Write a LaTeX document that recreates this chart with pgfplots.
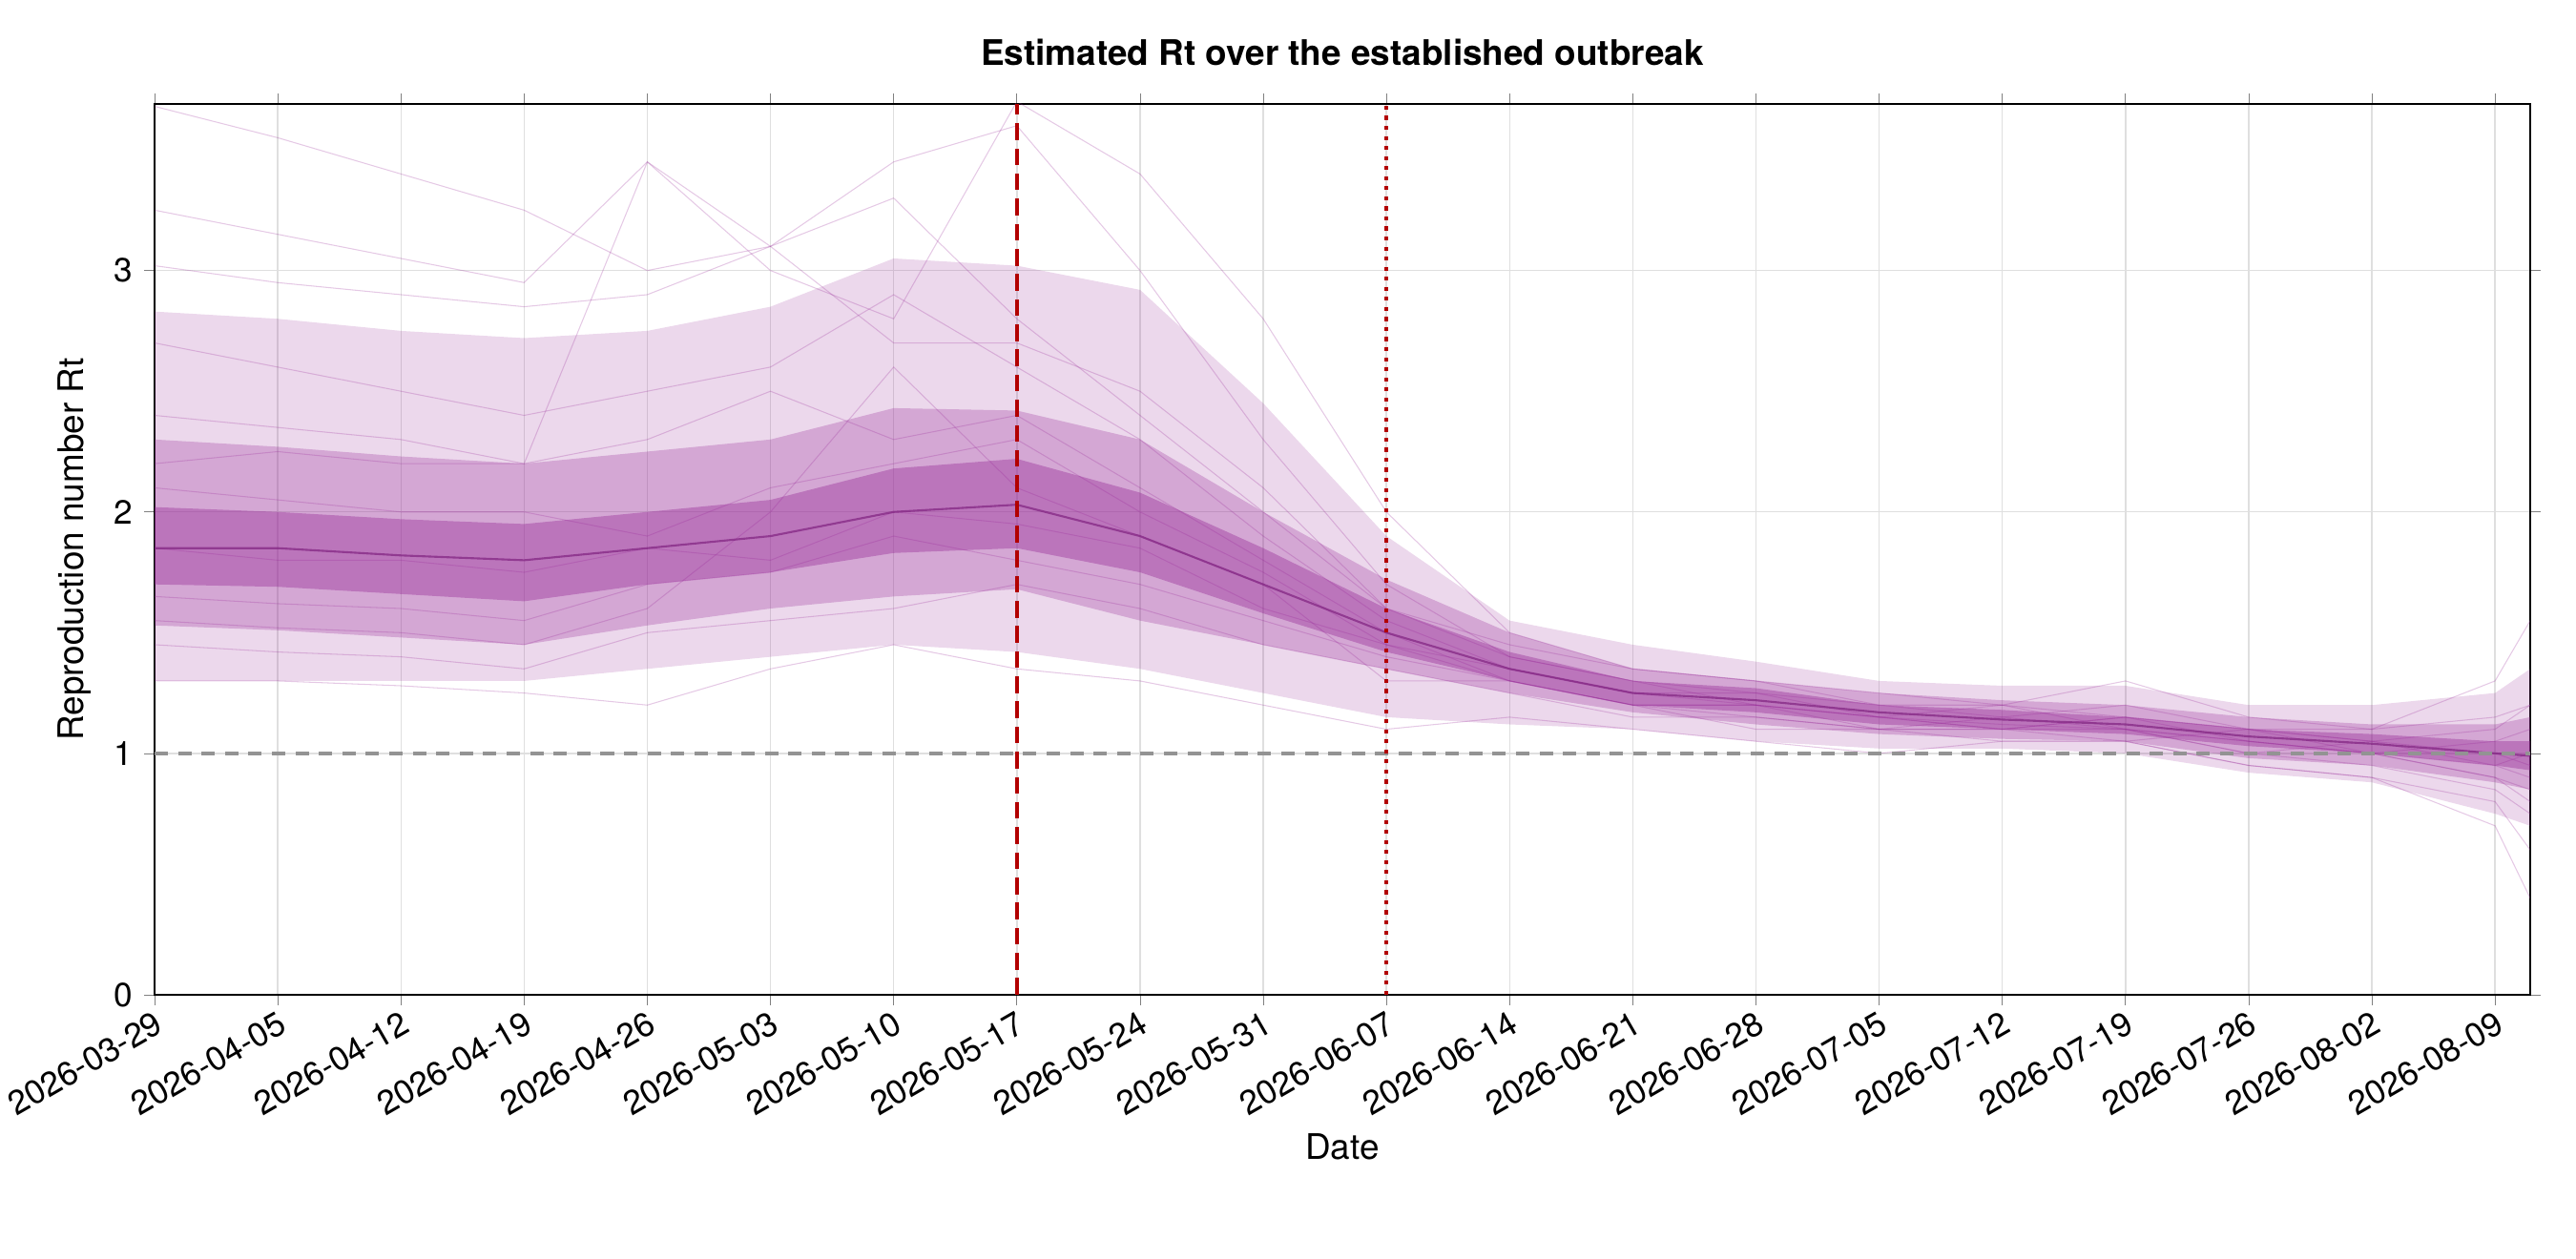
\documentclass[border=0pt]{standalone}
\usepackage{pgfplots}
\pgfplotsset{compat=1.18}
\usepackage{pgfplotstable}
\usepgfplotslibrary{fillbetween}
\usepackage{fontspec}
\setmainfont{TeX Gyre Heros}
\definecolor{rtp}{RGB}{150,40,150}
\pgfplotstableread{
d med l1 u1 l2 u2 l3 u3
0 1.85 1.70 2.02 1.53 2.30 1.30 2.83
7 1.85 1.69 2.00 1.51 2.27 1.30 2.80
14 1.82 1.66 1.97 1.48 2.23 1.30 2.75
21 1.80 1.63 1.95 1.45 2.20 1.30 2.72
28 1.85 1.70 2.00 1.53 2.25 1.35 2.75
35 1.90 1.75 2.05 1.60 2.30 1.40 2.85
42 2.00 1.83 2.18 1.65 2.43 1.45 3.05
49 2.03 1.85 2.22 1.68 2.42 1.42 3.02
56 1.90 1.75 2.08 1.55 2.30 1.35 2.92
63 1.70 1.58 1.85 1.45 2.00 1.25 2.45
70 1.50 1.42 1.60 1.35 1.72 1.15 1.90
77 1.35 1.30 1.42 1.25 1.50 1.12 1.55
84 1.25 1.20 1.30 1.17 1.35 1.10 1.45
91 1.22 1.17 1.27 1.12 1.30 1.05 1.38
98 1.17 1.12 1.20 1.08 1.25 1.02 1.30
105 1.14 1.10 1.18 1.06 1.22 1.02 1.28
112 1.12 1.08 1.15 1.05 1.20 1.00 1.28
119 1.07 1.03 1.10 0.98 1.15 0.92 1.20
126 1.04 1.00 1.08 0.95 1.12 0.88 1.20
133 1.00 0.95 1.05 0.88 1.12 0.75 1.25
135 0.99 0.93 1.05 0.85 1.15 0.70 1.35
}\rt
\begin{document}
\fontsize{10}{12}\selectfont
\begin{tikzpicture}
\begin{axis}[
  at={(0,0)}, anchor=south west,
  scale only axis, width=24.9cm, height=9.34cm,
  xmin=0, xmax=135, ymin=0, ymax=3.69,
  xtick={0,7,...,133},
  xticklabels={2026-03-29,2026-04-05,2026-04-12,2026-04-19,2026-04-26,2026-05-03,2026-05-10,2026-05-17,2026-05-24,2026-05-31,2026-06-07,2026-06-14,2026-06-21,2026-06-28,2026-07-05,2026-07-12,2026-07-19,2026-07-26,2026-08-02,2026-08-09},
  xticklabel style={rotate=30, anchor=north east, inner sep=1pt, font=\fontsize{10}{12}\selectfont},
  ytick={0,1,2,3},
  yticklabel style={font=\fontsize{10}{12}\selectfont},
  /pgf/number format/assume math mode=true,
  grid=major, grid style={gray!25, line width=0.4pt},
  tick align=outside, major tick length=3pt,
  xlabel={Date}, ylabel={Reproduction number Rt},
  label style={font=\fontsize{10.5}{12}\selectfont},
  title={\textbf{Estimated Rt over the established outbreak}},
  title style={font=\fontsize{10.5}{12}\selectfont, yshift=2pt},
  axis line style={line width=0.6pt},
  clip=true,
]
\addplot[name path=l3, draw=none] table[x=d,y=l3]{\rt};
\addplot[name path=u3, draw=none] table[x=d,y=u3]{\rt};
\addplot[rtp, fill opacity=0.18, draw=none] fill between[of=l3 and u3];
\addplot[name path=l2, draw=none] table[x=d,y=l2]{\rt};
\addplot[name path=u2, draw=none] table[x=d,y=u2]{\rt};
\addplot[rtp, fill opacity=0.28, draw=none] fill between[of=l2 and u2];
\addplot[name path=l1, draw=none] table[x=d,y=l1]{\rt};
\addplot[name path=u1, draw=none] table[x=d,y=u1]{\rt};
\addplot[rtp, fill opacity=0.4, draw=none] fill between[of=l1 and u1];
\pgfplotsset{traj/.style={rtp, opacity=0.25, line width=0.3pt, mark=none}}
\addplot[traj] coordinates {(0,3.68)(7,3.55)(14,3.4)(21,3.25)(28,3.0)(35,3.1)(42,3.45)(49,3.6)(56,3.0)(63,2.3)(70,1.7)(77,1.4)(84,1.3)(91,1.25)(98,1.2)(105,1.15)(112,1.2)(119,1.1)(126,1.05)(133,1.1)(135,1.2)};
\addplot[traj] coordinates {(0,3.25)(7,3.15)(14,3.05)(21,2.95)(28,3.45)(35,3.0)(42,2.8)(49,3.7)(56,3.4)(63,2.8)(70,2.0)(77,1.5)(84,1.35)(91,1.3)(98,1.2)(105,1.2)(112,1.15)(119,1.05)(126,1.0)(133,0.9)(135,0.85)};
\addplot[traj] coordinates {(0,3.02)(7,2.95)(14,2.9)(21,2.85)(28,2.9)(35,3.1)(42,3.3)(49,2.8)(56,2.4)(63,2.0)(70,1.6)(77,1.4)(84,1.3)(91,1.2)(98,1.15)(105,1.2)(112,1.1)(119,1.05)(126,1.0)(133,0.95)(135,1.0)};
\addplot[traj] coordinates {(0,2.7)(7,2.6)(14,2.5)(21,2.4)(28,2.5)(35,2.6)(42,2.9)(49,2.6)(56,2.3)(63,1.9)(70,1.55)(77,1.35)(84,1.25)(91,1.25)(98,1.15)(105,1.1)(112,1.15)(119,1.1)(126,1.0)(133,0.9)(135,0.8)};
\addplot[traj] coordinates {(0,2.4)(7,2.35)(14,2.3)(21,2.2)(28,2.3)(35,2.5)(42,2.3)(49,2.4)(56,2.1)(63,1.8)(70,1.5)(77,1.3)(84,1.2)(91,1.2)(98,1.1)(105,1.15)(112,1.1)(119,1.0)(126,1.05)(133,1.0)(135,0.95)};
\addplot[traj] coordinates {(0,2.1)(7,2.05)(14,2.0)(21,2.0)(28,1.9)(35,2.1)(42,2.2)(49,2.3)(56,2.0)(63,1.75)(70,1.45)(77,1.35)(84,1.25)(91,1.2)(98,1.15)(105,1.1)(112,1.05)(119,1.1)(126,1.05)(133,0.95)(135,0.9)};
\addplot[traj] coordinates {(0,1.85)(7,1.8)(14,1.8)(21,1.75)(28,1.85)(35,1.8)(42,2.0)(49,1.95)(56,1.85)(63,1.6)(70,1.45)(77,1.3)(84,1.2)(91,1.2)(98,1.15)(105,1.12)(112,1.1)(119,1.05)(126,1.0)(133,1.05)(135,1.1)};
\addplot[traj] coordinates {(0,1.65)(7,1.62)(14,1.6)(21,1.55)(28,1.7)(35,1.75)(42,1.9)(49,1.8)(56,1.7)(63,1.55)(70,1.4)(77,1.3)(84,1.2)(91,1.15)(98,1.1)(105,1.1)(112,1.1)(119,1.0)(126,0.95)(133,0.85)(135,0.75)};
\addplot[traj] coordinates {(0,1.45)(7,1.42)(14,1.4)(21,1.35)(28,1.5)(35,1.55)(42,1.6)(49,1.7)(56,1.6)(63,1.45)(70,1.35)(77,1.25)(84,1.15)(91,1.15)(98,1.1)(105,1.05)(112,1.05)(119,0.95)(126,0.9)(133,0.8)(135,0.6)};
\addplot[traj] coordinates {(0,1.3)(7,1.3)(14,1.28)(21,1.25)(28,1.2)(35,1.35)(42,1.45)(49,1.35)(56,1.3)(63,1.2)(70,1.1)(77,1.15)(84,1.1)(91,1.05)(98,1.0)(105,1.05)(112,1.05)(119,0.95)(126,0.9)(133,0.7)(135,0.4)};
\addplot[traj] coordinates {(0,2.2)(7,2.25)(14,2.2)(21,2.2)(28,3.45)(35,3.1)(42,2.7)(49,2.7)(56,2.5)(63,2.1)(70,1.6)(77,1.45)(84,1.35)(91,1.3)(98,1.25)(105,1.2)(112,1.3)(119,1.15)(126,1.1)(133,1.3)(135,1.55)};
\addplot[traj] coordinates {(0,1.55)(7,1.52)(14,1.5)(21,1.45)(28,1.6)(35,2.0)(42,2.6)(49,2.1)(56,1.9)(63,1.7)(70,1.3)(77,1.3)(84,1.2)(91,1.1)(98,1.1)(105,1.1)(112,1.15)(119,1.1)(126,1.1)(133,1.15)(135,1.2)};
\addplot[rtp!85!black, line width=0.6pt, opacity=0.7] table[x=d,y=med]{\rt};
\addplot[gray!85, line width=1pt, dash pattern=on 4pt off 3pt] coordinates {(0,1)(135,1)};
\addplot[red!70!black, line width=1.1pt, dash pattern=on 5pt off 2.5pt] coordinates {(49,0)(49,3.69)};
\addplot[red!70!black, line width=1.1pt, dash pattern=on 1.2pt off 1.8pt] coordinates {(70,0)(70,3.69)};
\end{axis}
\path (-1.62,-2.77) rectangle (25.38,10.43);
\end{tikzpicture}
\end{document}
